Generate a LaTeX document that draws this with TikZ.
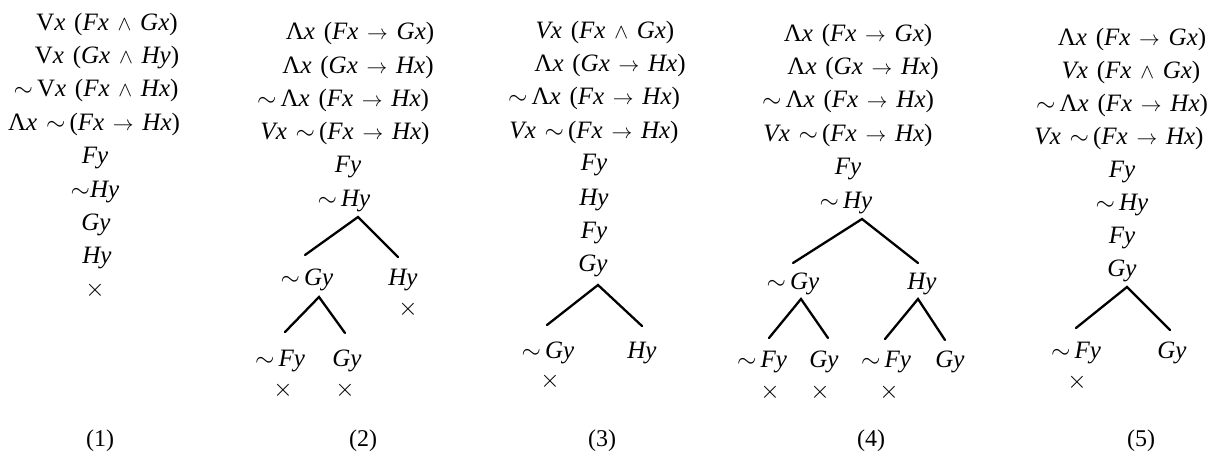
\documentclass[tikz,border=0pt]{standalone}
\usepackage{fontspec}
\setmainfont[WordSpace=1.4]{Liberation Serif}
\newcommand\I[1]{\textit{#1}}
\newcommand\Ng{$\sim$\,}
\newcommand\Ar{{\fontsize{22}{22}\selectfont$\rightarrow$}}
\newcommand\An{{\fontsize{21}{21}\selectfont$\wedge$}}
\newcommand\X{$\times$}
\tikzset{
  f/.style={inner sep=0pt, anchor=base, font=\fontsize{25}{29}\selectfont},
  xm/.style={inner sep=0pt, anchor=center, font=\fontsize{25}{29}\selectfont},
  br/.style={line width=2.3pt, line cap=round},
  lbl/.style={inner sep=0pt, font=\fontsize{24}{28}\selectfont}
}
\begin{document}
\begin{tikzpicture}[x=1pt,y=-1pt]
\useasboundingbox (0,0) rectangle (1219,464);
% ---- column 1
\node[f] (a1) at (107,30) {V\I{x} (\I{Fx} \An\ \I{Gx})};
\node[f] (a2) at (107,63.4) {V\I{x} (\I{Gx} \An\ \I{Hy})};
\node[f] (a3) at (96,96.8) {\Ng V\I{x} (\I{Fx} \An\ \I{Hx})};
\node[f] (a4) at (94,130.2) {Λ\I{x} \Ng(\I{Fx} \Ar\ \I{Hx})};
\node[f] (a5) at (95,163.6) {\I{Fy}};
\node[f] (a6) at (95,197) {$\sim$\I{Hy}};
\node[f] (a7) at (96,230.4) {\I{Gy}};
\node[f] (a8) at (97,263.8) {\I{Hy}};
\node[xm] (a9) at (95,290) {\X};
% ---- column 2
\node[f] (b1) at (360,39.5) {Λ\I{x} (\I{Fx} \Ar\ \I{Gx})};
\node[f] (b2) at (358,73) {Λ\I{x} (\I{Gx} \Ar\ \I{Hx})};
\node[f] (b3) at (343,106) {\Ng Λ\I{x} (\I{Fx} \Ar\ \I{Hx})};
\node[f] (b4) at (345,139) {\I{Vx} \Ng(\I{Fx} \Ar\ \I{Hx})};
\node[f] (b5) at (348,172) {\I{Fy}};
\node[f] (b6) at (344,206) {\Ng\I{Hy}};
\node[f] (b7) at (307,285) {\Ng\I{Gy}};
\node[f] (b8) at (403,285) {\I{Hy}};
\node[xm] (b9) at (408,309) {\X};
\node[f] (b10) at (280,366) {\Ng\I{Fy}};
\node[f] (b11) at (347,366) {\I{Gy}};
\node[xm] (b12) at (283,390) {\X};
\node[xm] (b13) at (345,390) {\X};
\coordinate (bt) at (358,217);
\coordinate (btl) at (305,255);
\coordinate (btr) at (398,257);
\coordinate (bs) at (319,297);
\coordinate (bsl) at (285,332);
\coordinate (bsr) at (345,333);
\draw[br] (btl) -- (bt) -- (btr);
\draw[br] (bsl) -- (bs) -- (bsr);
% ---- column 3
\node[f] (c1) at (605,38) {\I{Vx} (\I{Fx} \An\ \I{Gx})};
\node[f] (c2) at (610,71.4) {Λ\I{x} (\I{Gx} \Ar\ \I{Hx})};
\node[f] (c3) at (594,104.8) {\Ng Λ\I{x} (\I{Fx} \Ar\ \I{Hx})};
\node[f] (c4) at (594,138.2) {\I{Vx} \Ng(\I{Fx} \Ar\ \I{Hx})};
\node[f] (c5) at (594,170) {\I{Fy}};
\node[f] (c6) at (594,205) {\I{Hy}};
\node[f] (c7) at (594,238.4) {\I{Fy}};
\node[f] (c8) at (593,271.8) {\I{Gy}};
\node[f] (c9) at (548,358) {\Ng\I{Gy}};
\node[f] (c10) at (642,358) {\I{Hy}};
\node[xm] (c11) at (550,381) {\X};
\coordinate (ct) at (598,285);
\coordinate (ctl) at (547,325);
\coordinate (ctr) at (642,326);
\draw[br] (ctl) -- (ct) -- (ctr);
% ---- column 4
\node[f] (d1) at (858,41) {Λ\I{x} (\I{Fx} \Ar\ \I{Gx})};
\node[f] (d2) at (863,74.4) {Λ\I{x} (\I{Gx} \Ar\ \I{Hx})};
\node[f] (d3) at (848,107.8) {\Ng Λ\I{x} (\I{Fx} \Ar\ \I{Hx})};
\node[f] (d4) at (848,141.2) {\I{Vx} \Ng(\I{Fx} \Ar\ \I{Hx})};
\node[f] (d5) at (848,174.6) {\I{Fy}};
\node[f] (d6) at (846,208) {\Ng\I{Hy}};
\node[f] (d7) at (793,289) {\Ng\I{Gy}};
\node[f] (d8) at (922,289) {\I{Hy}};
\node[f] (d9) at (762,367) {\Ng\I{Fy}};
\node[f] (d10) at (824,367) {\I{Gy}};
\node[f] (d11) at (886,367) {\Ng\I{Fy}};
\node[f] (d12) at (950,367) {\I{Gy}};
\node[xm] (d13) at (770,392) {\X};
\node[xm] (d14) at (820,392) {\X};
\node[xm] (d15) at (889,392) {\X};
\coordinate (dt) at (862,219);
\coordinate (dtl) at (793,263);
\coordinate (dtr) at (918,263);
\coordinate (dsa) at (801,299);
\coordinate (dsal) at (769,338);
\coordinate (dsar) at (828,338);
\coordinate (dsb) at (918,299);
\coordinate (dsbl) at (885,339);
\coordinate (dsbr) at (945,340);
\draw[br] (dtl) -- (dt) -- (dtr);
\draw[br] (dsal) -- (dsa) -- (dsar);
\draw[br] (dsbl) -- (dsb) -- (dsbr);
% ---- column 5
\node[f] (e1) at (1132,45) {Λ\I{x} (\I{Fx} \Ar\ \I{Gx})};
\node[f] (e2) at (1131,78) {\I{Vx} (\I{Fx} \An\ \I{Gx})};
\node[f] (e3) at (1122,111) {\Ng Λ\I{x} (\I{Fx} \Ar\ \I{Hx})};
\node[f] (e4) at (1119,144) {\I{Vx} \Ng(\I{Fx} \Ar\ \I{Hx})};
\node[f] (e5) at (1122,177) {\I{Fy}};
\node[f] (e6) at (1122,210) {\Ng\I{Hy}};
\node[f] (e7) at (1122,243) {\I{Fy}};
\node[f] (e8) at (1122,276) {\I{Gy}};
\node[f] (e9) at (1076,358) {\Ng\I{Fy}};
\node[f] (e10) at (1172,358) {\I{Gy}};
\node[xm] (e11) at (1077,382) {\X};
\coordinate (et) at (1127,287);
\coordinate (etl) at (1076,328);
\coordinate (etr) at (1170,330);
\draw[br] (etl) -- (et) -- (etr);
% ---- labels
\node[lbl] (l1) at (100,441) {(1)};
\node[lbl] (l2) at (363,441) {(2)};
\node[lbl] (l3) at (602,441) {(3)};
\node[lbl] (l4) at (871,441) {(4)};
\node[lbl] (l5) at (1141,441) {(5)};
\end{tikzpicture}
\end{document}
